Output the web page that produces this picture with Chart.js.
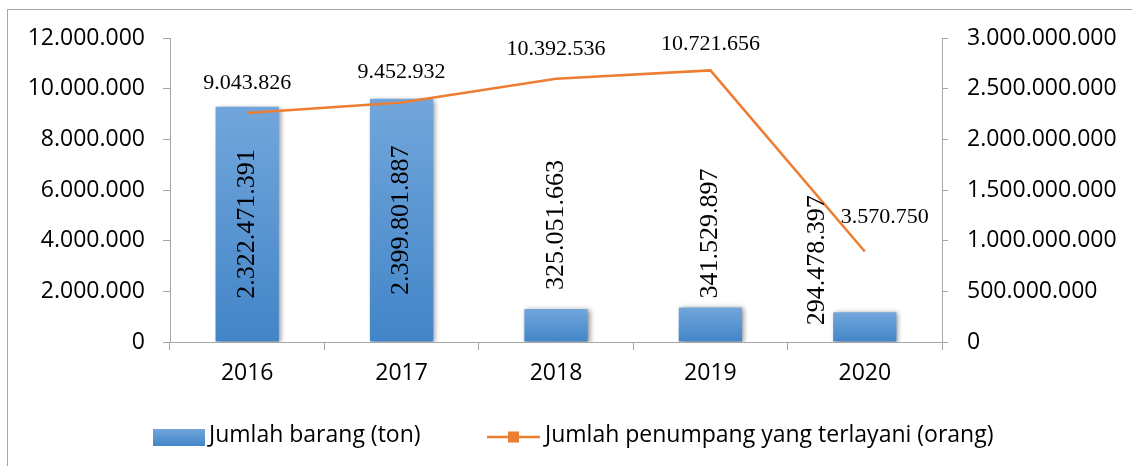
<!DOCTYPE html>
<html>
<head>
<meta charset="utf-8">
<script src="https://cdn.jsdelivr.net/npm/chart.js@4"></script>
<style>
  html, body { margin: 0; padding: 0; background: #fff; overflow: hidden; }
  #wrap { position: relative; width: 1132px; height: 466px; }
  #frame { position: absolute; left: 7px; top: 9px; width: 1200px; height: 600px;
           border: 1.5px solid #a6a6a6; box-sizing: border-box; }
  canvas { position: absolute; left: 0; top: 0; }
</style>
</head>
<body>
<div id="wrap">
  <div id="frame"></div>
  <canvas id="angkutanChart" width="1132" height="466"></canvas>
</div>
<script>
// data per tahun
const tahun = ['2016', '2017', '2018', '2019', '2020'];
const barang = [2322471391, 2399801887, 325051663, 341529897, 294478397];
const penumpang = [9043826, 9452932, 10392536, 10721656, 3570750];

// posisi label (geser dari titik / batang)
const barLabelPos = [null, null, [0, -84], [0, -74], [-48, -52]];
const lineLabelPos = [[0, -30], [0, -30], [0, -30], [0, -26], [20, -34]];

const fmt = v => String(Math.round(v)).replace(/\B(?=(\d{3})+(?!\d))/g, '.');

const AXIS = '#a6a6a6';
const ORANGE = '#ed7d31';
const tickFont = { family: '"Open Sans"', size: 23 };

function barGradient(ctx, top, base) {
  if (!Number.isFinite(top) || !Number.isFinite(base) || top === base) return '#5b9bd5';
  const g = ctx.createLinearGradient(0, top, 0, base);
  g.addColorStop(0, '#72a6db');
  g.addColorStop(1, '#4285c8');
  return g;
}

// bayangan tipis di batang
const barShadow = {
  id: 'barShadow',
  beforeDatasetDraw(chart, args) {
    if (chart.data.datasets[args.index].type !== 'bar') return;
    const ctx = chart.ctx;
    ctx.save();
    ctx.shadowColor = 'rgba(0,0,0,0.45)';
    ctx.shadowBlur = 5;
    ctx.shadowOffsetX = 2;
    ctx.shadowOffsetY = 1;
  },
  afterDatasetDraw(chart, args) {
    if (chart.data.datasets[args.index].type !== 'bar') return;
    chart.ctx.restore();
  }
};

// angka di batang (tegak) dan di garis
const valueLabels = {
  id: 'valueLabels',
  afterDatasetsDraw(chart) {
    const ctx = chart.ctx;
    ctx.save();
    ctx.fillStyle = '#000';
    ctx.textAlign = 'center';
    ctx.textBaseline = 'middle';

    ctx.font = '26px "Liberation Serif"';
    chart.getDatasetMeta(0).data.forEach((bar, i) => {
      const off = barLabelPos[i];
      const x = off ? bar.x + off[0] : bar.x;
      const y = off ? bar.y + off[1] : (bar.y + bar.base) / 2;
      ctx.save();
      ctx.translate(x, y);
      ctx.rotate(-Math.PI / 2);
      ctx.fillText(fmt(barang[i]), 0, 0);
      ctx.restore();
    });

    ctx.font = '22px "Liberation Serif"';
    chart.getDatasetMeta(1).data.forEach((pt, i) => {
      const off = lineLabelPos[i];
      ctx.fillText(fmt(penumpang[i]), pt.x + off[0], pt.y + off[1]);
    });
    ctx.restore();
  }
};

// legenda di bawah
const bottomLegend = {
  id: 'bottomLegend',
  afterDraw(chart) {
    const ctx = chart.ctx;
    const y = 437;
    const ds = chart.data.datasets;
    ctx.save();
    ctx.font = '23px "Open Sans"';
    ctx.textAlign = 'left';
    ctx.textBaseline = 'middle';

    ctx.fillStyle = barGradient(ctx, y - 8, y + 9);
    ctx.fillRect(153, y - 8, 52, 17);
    ctx.fillStyle = '#000';
    ctx.fillText(ds[0].label, 209, y - 2);

    ctx.strokeStyle = ORANGE;
    ctx.lineWidth = 2.5;
    ctx.beginPath();
    ctx.moveTo(487, y);
    ctx.lineTo(540, y);
    ctx.stroke();
    ctx.fillStyle = ORANGE;
    ctx.fillRect(508, y - 5.5, 11, 11);
    ctx.fillStyle = '#000';
    ctx.fillText(ds[1].label, 545, y - 2);
    ctx.restore();
  }
};

new Chart(document.getElementById('angkutanChart'), {
  data: {
    labels: tahun,
    datasets: [{
      type: 'bar',
      label: 'Jumlah barang (ton)',
      data: barang,
      yAxisID: 'y1',
      order: 1,
      barPercentage: 0.41,
      categoryPercentage: 1,
      backgroundColor(c) {
        const s = c.chart.scales.y1;
        if (!s || c.raw === undefined) return '#5b9bd5';
        return barGradient(c.chart.ctx, s.getPixelForValue(c.raw), s.getPixelForValue(0));
      },
      borderWidth: 0
    }, {
      type: 'line',
      label: 'Jumlah penumpang yang terlayani (orang)',
      data: penumpang,
      yAxisID: 'y',
      order: 0,
      borderColor: ORANGE,
      backgroundColor: ORANGE,
      borderWidth: 2.5,
      pointRadius: 0,
      tension: 0
    }]
  },
  options: {
    responsive: false,
    animation: false,
    layout: { padding: { top: 38, left: 0, right: 0, bottom: 0 } },
    plugins: {
      legend: { display: false },
      tooltip: { enabled: false }
    },
    scales: {
      x: {
        grid: { drawOnChartArea: false, color: AXIS, tickLength: 8, offset: true },
        border: { color: AXIS },
        ticks: { color: '#000', font: tickFont, padding: 10 },
        afterFit(s) { s.height = 124; }
      },
      y: {
        position: 'left',
        min: 0,
        max: 12000000,
        ticks: { stepSize: 2000000, color: '#000', font: tickFont, padding: 18, callback: v => fmt(v) },
        grid: { drawOnChartArea: false, color: AXIS, tickLength: 7 },
        border: { color: AXIS },
        afterFit(s) { s.width = 170; }
      },
      y1: {
        position: 'right',
        min: 0,
        max: 3000000000,
        ticks: { stepSize: 500000000, color: '#000', font: tickFont, padding: 19, callback: v => fmt(v) },
        grid: { drawOnChartArea: false, color: AXIS, tickLength: 6 },
        border: { color: AXIS },
        afterFit(s) { s.width = 190; }
      }
    }
  },
  plugins: [barShadow, valueLabels, bottomLegend]
});
</script>
</body>
</html>
